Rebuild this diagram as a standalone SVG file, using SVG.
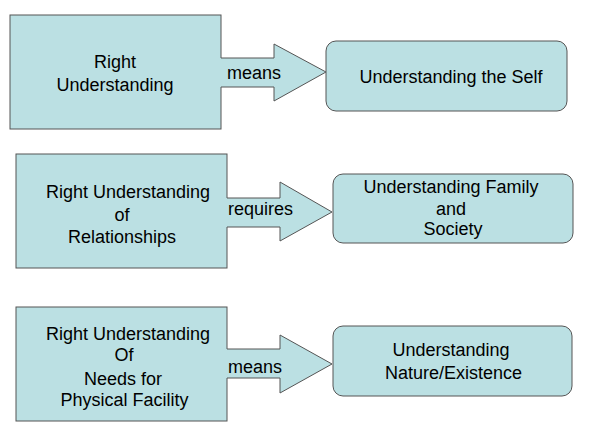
<svg xmlns="http://www.w3.org/2000/svg" width="616" height="427" viewBox="0 0 616 427">
<style>
.box{fill:#BBE0E3;stroke:#555;stroke-width:1}
.af{fill:#BBE0E3;stroke:none}
.as{fill:none;stroke:#555;stroke-width:1}
text{font-family:"Liberation Sans",Arial,sans-serif;font-size:18px;fill:#000}
.c{text-anchor:middle}
</style>
<rect width="616" height="427" fill="#fff"/>
<g id="n1"><rect class="box" x="10" y="15" width="211" height="114"/>
<text class="c" x="115" y="68">Right</text><text class="c" x="115" y="91">Understanding</text></g>
<g id="n2"><rect class="box" x="16" y="154" width="211" height="114"/>
<text class="c" x="128" y="198">Right Understanding</text><text class="c" x="122" y="221">of</text><text class="c" x="122" y="243">Relationships</text></g>
<g id="n3"><rect class="box" x="16" y="307" width="211" height="114"/>
<text class="c" x="128" y="340">Right Understanding</text><text class="c" x="124" y="361">Of</text><text class="c" x="123" y="385">Needs for</text><text class="c" x="124.5" y="406">Physical Facility</text></g>
<g id="n4"><rect class="box" x="326" y="41" width="241" height="70" rx="10"/>
<text class="c" x="451" y="83">Understanding the Self</text></g>
<g id="n5"><rect class="box" x="333" y="174" width="240" height="69" rx="10"/>
<text class="c" x="451" y="193">Understanding Family</text><text class="c" x="451" y="215">and</text><text class="c" x="453" y="235">Society</text></g>
<g id="n6"><rect class="box" x="333" y="326" width="239" height="70" rx="10"/>
<text class="c" x="451" y="356">Understanding</text><text class="c" x="453.5" y="379">Nature/Existence</text></g>
<g id="connectors">
<polygon class="af" points="219,58 274,58 274,44 326,72 274,101 274,87 219,87"/>
<polyline class="as" points="221,58 274,58 274,44 326,72 274,101 274,87 221,87"/>
<text x="227" y="79">means</text>
<polygon class="af" points="225,198 280,198 280,182 332,212 280,241 280,227 225,227"/>
<polyline class="as" points="227,198 280,198 280,182 332,212 280,241 280,227 227,227"/>
<text x="228" y="215">requires</text>
<polygon class="af" points="225,349 280,349 280,335 332,364 280,393 280,378 225,378"/>
<polyline class="as" points="227,349 280,349 280,335 332,364 280,393 280,378 227,378"/>
<text x="228" y="373">means</text>
</g>
</svg>
